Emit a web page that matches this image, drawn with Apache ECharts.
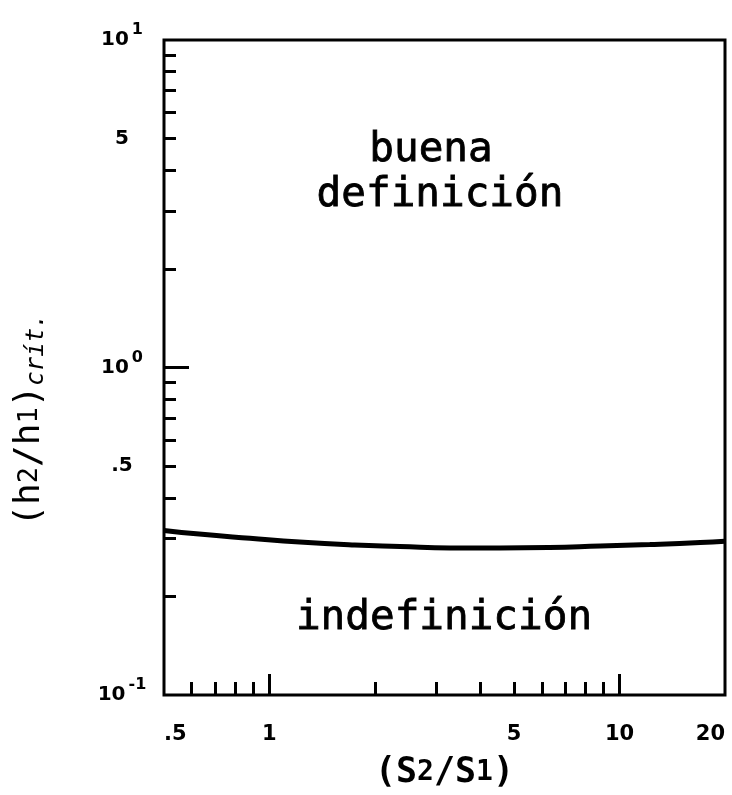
<!DOCTYPE html>
<html><head><meta charset="utf-8">
<script src="https://cdn.jsdelivr.net/npm/echarts@6/dist/echarts.min.js"></script>
<style>html,body{margin:0;padding:0;background:#fff;overflow:hidden;width:732px;height:795px}#c{position:absolute;left:0;top:0;width:732px;height:795px}</style>
</head><body><div id="c"></div>
<script>
// Data
const ratioS = [0.5, 0.63, 0.88, 1.22, 1.75, 2.36, 3.28, 4.55, 6.3, 8.8, 12.2, 17, 20];
const hCrit  = [0.318, 0.310, 0.301, 0.293, 0.287, 0.284, 0.281, 0.281, 0.282, 0.285, 0.288, 0.292, 0.295];
const xLabelValues = [0.5, 1, 5, 10, 20];
const xLabelTexts  = ['.5', '1', '5', '10', '20'];
const xMinorTicks  = [0.6, 0.7, 0.8, 0.9, 2, 3, 4, 5, 6, 7, 8, 9];
const xMajorTicks  = [1, 10];
const yLabelValues = [0.1, 0.5, 1, 5, 10];
const yLabelTexts  = ['{b|10}{sup|-1}', '{b|.5}', '{b|10}{sup|0}', '{b|5}', '{b|10}{sup|1}'];
const yMinorTicks  = [0.2, 0.3, 0.4, 0.5, 0.6, 0.7, 0.8, 0.9, 2, 3, 4, 5, 6, 7, 8, 9];
const yMajorTicks  = [1];
const regionTop1 = 'buena';
const regionTop2 = 'definición';
const regionBottom = 'indefinición';

function lookup(vals, texts, v) {
  for (let i = 0; i < vals.length; i++) {
    if (Math.abs(v - vals[i]) / vals[i] < 1e-6) return texts[i];
  }
  return '';
}

const chart = echarts.init(document.getElementById('c'), null, {renderer: 'canvas', width: 732, height: 795});
const MONO = 'DejaVu Sans Mono';

chart.setOption({
  animation: false,
  backgroundColor: '#fff',
  grid: {left: 164, width: 561, top: 40, height: 664, show: true, borderColor: '#000', borderWidth: 3},
  xAxis: [
    {
      type: 'log', logBase: 10, min: 0.5, max: 20, position: 'bottom',
      axisLine: {show: false}, splitLine: {show: false},
      axisTick: {show: true, inside: true, length: 13, lineStyle: {color: '#000', width: 3}, customValues: xMinorTicks},
      axisLabel: {
        color: '#000', fontFamily: 'DejaVu Sans', fontWeight: 'bold', fontSize: 21,
        customValues: xLabelValues, margin: 29,
        alignMinLabel: 'left', alignMaxLabel: 'right',
        formatter: v => lookup(xLabelValues, xLabelTexts, v)
      },
      name: '(S{s|2}/S{s|1})', nameLocation: 'middle', nameGap: 60,
      nameTextStyle: {color: '#000', fontFamily: MONO, fontWeight: 'bold', fontSize: 35,
        rich: {s: {fontFamily: MONO, fontWeight: 'bold', fontSize: 28, color: '#000'}}}
    },
    {
      type: 'log', logBase: 10, min: 0.5, max: 20, position: 'bottom',
      axisLine: {show: false}, splitLine: {show: false}, axisLabel: {show: false},
      axisTick: {show: true, inside: true, length: 21, lineStyle: {color: '#000', width: 3}, customValues: xMajorTicks}
    }
  ],
  yAxis: [
    {
      type: 'log', logBase: 10, min: 0.1, max: 10, position: 'left',
      axisLine: {show: false}, splitLine: {show: false},
      axisTick: {show: true, inside: true, length: 12, lineStyle: {color: '#000', width: 3}, customValues: yMinorTicks},
      axisLabel: {
        customValues: yLabelValues, margin: 42, align: 'center',
        formatter: v => lookup(yLabelValues, yLabelTexts, v),
        rich: {
          b: {fontFamily: 'DejaVu Sans', fontWeight: 'bold', fontSize: 20, color: '#000'},
          sup: {fontFamily: 'DejaVu Sans', fontWeight: 'bold', fontSize: 16, color: '#000', padding: [0, 0, 20, 3]}
        }
      }
    },
    {
      type: 'log', logBase: 10, min: 0.1, max: 10, position: 'left',
      axisLine: {show: false}, splitLine: {show: false}, axisLabel: {show: false},
      axisTick: {show: true, inside: true, length: 25, lineStyle: {color: '#000', width: 3}, customValues: yMajorTicks}
    }
  ],
  graphic: [
    {type: 'text', x: 431, y: 150, style: {text: regionTop1, font: '41px "' + MONO + '"', fill: '#000', align: 'center', verticalAlign: 'middle', stroke: '#000', lineWidth: 0.8}},
    {type: 'text', x: 440, y: 195, style: {text: regionTop2, font: '41px "' + MONO + '"', fill: '#000', align: 'center', verticalAlign: 'middle', stroke: '#000', lineWidth: 0.8}},
    {type: 'text', x: 444, y: 618, style: {text: regionBottom, font: '41px "' + MONO + '"', fill: '#000', align: 'center', verticalAlign: 'middle', stroke: '#000', lineWidth: 0.8}},
    {type: 'text', x: 30, y: 420, rotation: Math.PI / 2,
      style: {text: '(h{s|2}/h{s|1}){c|crít.}', fill: '#000', align: 'center', verticalAlign: 'middle',
        fontFamily: MONO, fontSize: 36,
        rich: {
          s: {fontFamily: MONO, fontSize: 27, fill: '#000'},
          c: {fontFamily: MONO, fontSize: 24, fontStyle: 'italic', fill: '#000', padding: [14, 0, 0, 0]}
        }}}
  ],
  series: [{
    type: 'line', xAxisIndex: 0, yAxisIndex: 0,
    data: ratioS.map((x, i) => [x, hCrit[i]]),
    smooth: true, symbol: 'none',
    lineStyle: {color: '#000', width: 5}
  }]
});
</script></body></html>
